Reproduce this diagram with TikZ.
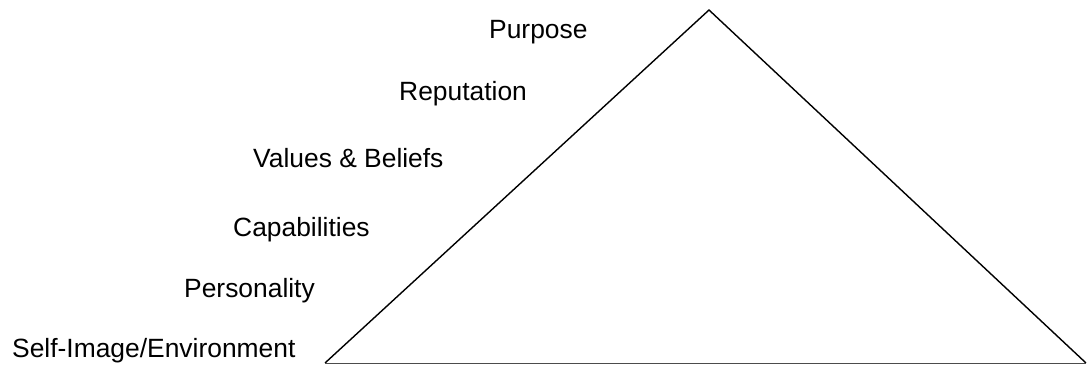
\documentclass[tikz,border=0pt]{standalone}
\usepackage{fontspec}
\setmainfont{Liberation Sans}
\begin{document}
\begin{tikzpicture}[x=1pt,y=1pt,
  lbl/.style={anchor=base west,inner sep=0pt,font=\fontsize{26.4}{30}\selectfont},
  edge/.style={line width=1.4pt,line join=miter}]
\useasboundingbox (0,0) rectangle (1088,365);
\coordinate (top) at (709,355);
\coordinate (bl) at (325,2);
\coordinate (br) at (1086,2);
\draw[edge] (bl) -- (top) -- (br);
\draw[line width=1pt,black!70] (bl) -- (br);
\node[lbl] (purpose) at (489,326) {Purpose};
\node[lbl] (reputation) at (399,264) {Reputation};
\node[lbl] (values) at (253,197) {Values \& Beliefs};
\node[lbl] (capab) at (233,129) {Capabilities};
\node[lbl] (person) at (184,68) {Personality};
\node[lbl] (self) at (12,8) {Self-Image/Environment};
\end{tikzpicture}
\end{document}
